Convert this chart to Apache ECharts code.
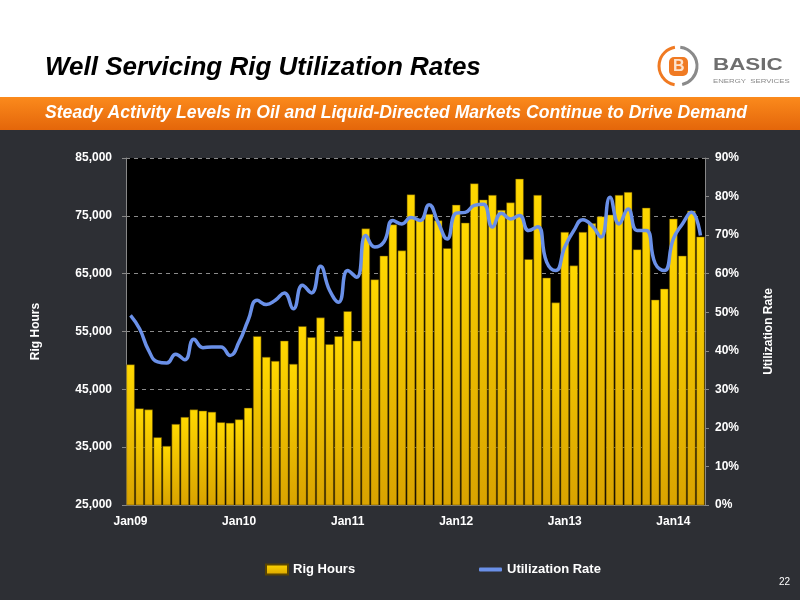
<!DOCTYPE html>
<html>
<head>
<meta charset="utf-8">
<script src="https://cdn.jsdelivr.net/npm/echarts@6/dist/echarts.min.js"></script>
<style>
  html, body { margin: 0; padding: 0; background: #2d2f34; }
  #chart { width: 800px; height: 600px; }
</style>
</head>
<body>
<div id="chart"></div>
<script>
// monthly categories Jan09 .. Apr14
const monthNames = ['Jan', 'Feb', 'Mar', 'Apr', 'May', 'Jun', 'Jul', 'Aug', 'Sep', 'Oct', 'Nov', 'Dec'];
const yrs = ['09', '10', '11', '12', '13', '14'];
const months = [];
yrs.forEach(y => {
    monthNames.forEach(m => {
        months.push(m + y);
    });
});
months.length = 64;

const rigHours = [
    49300, 41700, 41500, 36700, 35200, 39000, 40200, 41500, 41300, 41100, 39300, 39200,
    39800, 41800, 54200, 50600, 49900, 53400, 49400, 55900, 54000, 57400, 52800, 54200,
    58500, 53400, 72800, 64000, 68100, 73500, 69000, 78700, 74300, 75300, 74200, 69400,
    76900, 73800, 80600, 77800, 78600, 76000, 77300, 81400, 67500, 78600, 64300, 60000,
    72200, 66400, 72200, 73700, 74900, 75200, 78600, 79100, 69200, 76400, 60500, 62400,
    74500, 68100, 75900, 71400
];

const utilRate = [
    49.2, 45.7, 40.1, 37.1, 36.8, 39.1, 37.7, 43.0, 40.8, 41.0, 41.0, 38.8,
    42.3, 47.9, 53.1, 52.0, 53.1, 55.0, 50.9, 57.0, 55.0, 61.9, 55.7, 52.6,
    60.8, 59.1, 69.9, 66.9, 68.2, 73.8, 72.9, 74.6, 73.8, 77.9, 73.3, 69.0,
    75.7, 75.9, 77.7, 78.0, 72.1, 75.7, 74.2, 75.1, 71.2, 72.2, 63.0, 60.8,
    66.9, 71.2, 74.0, 72.5, 69.5, 79.8, 72.9, 76.8, 71.2, 71.2, 62.6, 60.8,
    69.0, 72.9, 75.9, 69.9
];

const title = 'Well Servicing Rig Utilization Rates';
const subtitle = 'Steady Activity Levels in Oil and Liquid-Directed Markets Continue to Drive Demand';

const chart = echarts.init(document.getElementById('chart'));

const labelFont = {
    color: '#fff',
    fontWeight: 'bold',
    fontSize: 12,
    fontFamily: 'Liberation Sans'
};

const option = {
    backgroundColor: '#2d2f34',
    animation: false,
    graphic: [
        {type: 'rect', shape: {x: 0, y: 0, width: 800, height: 97}, style: {fill: '#fff'}, z: -10},
        {
            type: 'rect', shape: {x: 0, y: 97, width: 800, height: 33},
            style: {
                fill: new echarts.graphic.LinearGradient(0, 0, 0, 1, [
                    {offset: 0, color: '#fb8a1c'},
                    {offset: 1, color: '#e4660a'}
                ])
            },
            z: -10
        },
        {
            type: 'text', x: 45, y: 55,
            style: {text: title, fill: '#000', font: 'italic bold 26px "Liberation Sans"'}
        },
        {
            type: 'text', x: 45, y: 104,
            style: {text: subtitle, fill: '#fff', font: 'italic bold 17.6px "Liberation Sans"'}
        },
        // logo
        {
            type: 'arc', shape: {cx: 678, cy: 66, r: 19, startAngle: -1.45, endAngle: 1.35},
            style: {stroke: '#8a8a8a', lineWidth: 3, fill: null}
        },
        {
            type: 'arc', shape: {cx: 678, cy: 66, r: 19, startAngle: 1.75, endAngle: 4.55},
            style: {stroke: '#f07a22', lineWidth: 3, fill: null}
        },
        {
            type: 'rect', shape: {x: 669, y: 57, width: 19, height: 19, r: 5},
            style: {fill: '#f07a22'}
        },
        {
            type: 'text', x: 673, y: 59,
            style: {text: 'B', fill: '#fde3cc', font: 'bold 16px "Liberation Sans"'}
        },
        {
            type: 'text', x: 713, y: 58, scaleX: 1.4,
            style: {text: 'BASIC', fill: '#6e6e6e', font: 'bold 16px "Liberation Sans"'}
        },
        {
            type: 'text', x: 713, y: 78, scaleX: 1.3,
            style: {text: 'ENERGY  SERVICES', fill: '#8a8a8a', font: '6px "Liberation Sans"'}
        },
        {
            type: 'text', right: 10, top: 577,
            style: {text: '22', fill: '#fff', font: '10px "Liberation Sans"'}
        }
    ],
    grid: {
        left: 126, right: 95, top: 158, bottom: 95,
        show: true, backgroundColor: '#000', borderWidth: 0
    },
    legend: [
        {
            bottom: 19,
            left: 260,
            itemWidth: 22,
            itemHeight: 10,
            textStyle: Object.assign({}, labelFont, {fontSize: 13}),
            data: [{name: 'Rig Hours', icon: 'rect'}]
        },
        {
            bottom: 19,
            left: 474,
            itemWidth: 23,
            itemHeight: 4,
            textStyle: Object.assign({}, labelFont, {fontSize: 13}),
            data: [{name: 'Utilization Rate', icon: 'roundRect'}]
        }
    ],
    xAxis: {
        type: 'category',
        data: months,
        boundaryGap: true,
        axisLine: {lineStyle: {color: '#888'}},
        axisTick: {interval: 11, length: 4, lineStyle: {color: '#888'}},
        axisLabel: Object.assign({interval: 11, margin: 11}, labelFont)
    },
    yAxis: [
        {
            type: 'value',
            min: 25000, max: 85000, interval: 10000,
            name: 'Rig Hours',
            nameLocation: 'middle',
            nameGap: 84,
            nameTextStyle: labelFont,
            axisLine: {show: true, lineStyle: {color: '#888'}},
            axisTick: {show: true, length: 4, lineStyle: {color: '#888'}},
            axisLabel: Object.assign({margin: 14, formatter: v => v.toLocaleString('en-US')}, labelFont),
            splitLine: {lineStyle: {color: '#8a8a8a', type: [4, 4], width: 1}}
        },
        {
            type: 'value',
            min: 0, max: 90, interval: 10,
            name: 'Utilization Rate',
            nameLocation: 'middle',
            nameGap: 58,
            nameTextStyle: labelFont,
            axisLine: {show: true, lineStyle: {color: '#888'}},
            axisTick: {show: true, length: 4, lineStyle: {color: '#888'}},
            axisLabel: Object.assign({margin: 10, formatter: '{value}%'}, labelFont),
            splitLine: {show: false}
        }
    ],
    series: [
        {
            name: 'Rig Hours',
            type: 'bar',
            data: rigHours,
            barCategoryGap: '8%',
            itemStyle: {
                color: new echarts.graphic.LinearGradient(0, 0, 0, 1, [
                    {offset: 0, color: '#ffd800'},
                    {offset: 1, color: '#d9a300'}
                ]),
                borderColor: '#5a4500',
                borderWidth: 0.5
            }
        },
        {
            name: 'Utilization Rate',
            type: 'line',
            yAxisIndex: 1,
            data: utilRate,
            smooth: 0.5,
            showSymbol: false,
            symbol: 'none',
            lineStyle: {color: '#6a90e8', width: 3.5},
            itemStyle: {color: '#6a90e8'}
        }
    ]
};

option && chart.setOption(option);
</script>
</body>
</html>
